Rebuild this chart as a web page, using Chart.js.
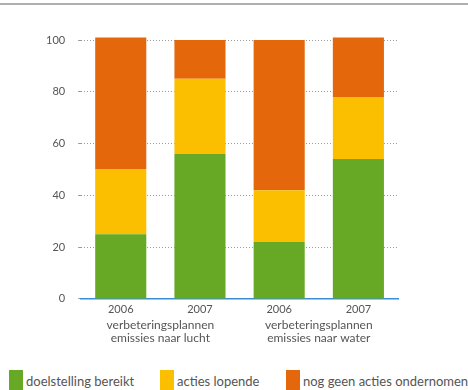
<!DOCTYPE html>
<html>
<head>
<meta charset="utf-8">
<script src="https://cdn.jsdelivr.net/npm/chart.js@4"></script>
<style>
  html, body { margin: 0; padding: 0; background: #fff; overflow: hidden; }
  #wrap { position: relative; width: 468px; height: 390px; overflow: hidden; font-family: Lato, "Open Sans", sans-serif; }
  #topline { position: absolute; left: 0; top: 3px; width: 468px; height: 2px; background: #b0b0b0; }
  #box { position: absolute; left: 0; top: 0; width: 468px; height: 360px; }
  #legend { position: absolute; left: 0; top: 370px; width: 468px; height: 24px; }
  .item { position: absolute; top: 0; height: 24px; font-size: 13px; color: #555; white-space: nowrap; }
  .item span.sw { position: absolute; left: 0; top: 0; width: 14px; height: 24px; }
  .item span.tx { position: absolute; left: 17px; top: 3px; line-height: 16px; }
</style>
</head>
<body>
<div id="wrap">
  <div id="topline"></div>
  <div id="box"><canvas id="chart"></canvas></div>
  <div id="legend"></div>
</div>
<script>
const years = ['2006', '2007', '2006', '2007'];
const groups = [['verbeteringsplannen', 'emissies naar lucht'], ['verbeteringsplannen', 'emissies naar water']];
const seriesNames = ['doelstelling bereikt', 'acties lopende', 'nog geen acties ondernomen'];
const doelstellingBereikt = [25, 56, 22, 54];
const actiesLopende = [25, 29, 20, 24];
const nogGeenActies = [51, 15, 58, 23];
const yTicks = [0, 20, 40, 60, 80, 100];
const colors = ['#67a924', '#fbbf00', '#e4670c'];

const textColor = '#555';
const fontFam = 'Lato, "Open Sans", sans-serif';

const ctx = document.getElementById('chart');
const chart = new Chart(ctx, {
  type: 'bar',
  data: {
    labels: years,
    datasets: [
      { label: seriesNames[0], data: doelstellingBereikt, backgroundColor: colors[0] },
      { label: seriesNames[1], data: actiesLopende, backgroundColor: colors[1] },
      { label: seriesNames[2], data: nogGeenActies, backgroundColor: colors[2] }
    ]
  },
  options: {
    responsive: true,
    maintainAspectRatio: false,
    animation: false,
    layout: { padding: { top: 40, right: 70, left: 33, bottom: 16 } },
    datasets: { bar: { barPercentage: 0.645, categoryPercentage: 1, clip: false } },
    plugins: {
      tooltip: { enabled: false },
      legend: { display: false }
    },
    scales: {
      x: {
        stacked: true,
        grid: { display: false, drawTicks: false },
        border: { display: true, color: '#3b8ed4', width: 1.5 },
        ticks: { color: textColor, font: { family: fontFam, size: 11 }, padding: 4 }
      },
      x2: {
        type: 'category',
        labels: groups,
        position: 'bottom',
        offset: true,
        grid: { display: false, drawTicks: false },
        border: { display: false },
        ticks: { color: textColor, font: { family: fontFam, size: 12, lineHeight: 1.08 }, padding: -1 }
      },
      y: {
        stacked: true,
        min: 0,
        max: 100,
        afterBuildTicks: axis => { axis.ticks = yTicks.map(v => ({ value: v })); },
        grid: { color: '#9a9a9a', lineWidth: 1, tickLength: 3, drawTicks: true, tickColor: '#9a9a9a', borderDash: [1, 2] },
        border: { display: false, dash: [1, 2] },
        ticks: { color: textColor, font: { family: fontFam, size: 11 }, padding: 13 }
      }
    }
  }
});

// legend in HTML, from the chart's datasets
const legendX = [9, 160, 286];
const legend = document.getElementById('legend');
chart.data.datasets.forEach((ds, i) => {
  const item = document.createElement('div');
  item.className = 'item';
  item.style.left = legendX[i] + 'px';
  item.innerHTML = '<span class="sw" style="background:' + ds.backgroundColor + '"></span><span class="tx">' + ds.label + '</span>';
  legend.appendChild(item);
});
</script>
</body>
</html>
